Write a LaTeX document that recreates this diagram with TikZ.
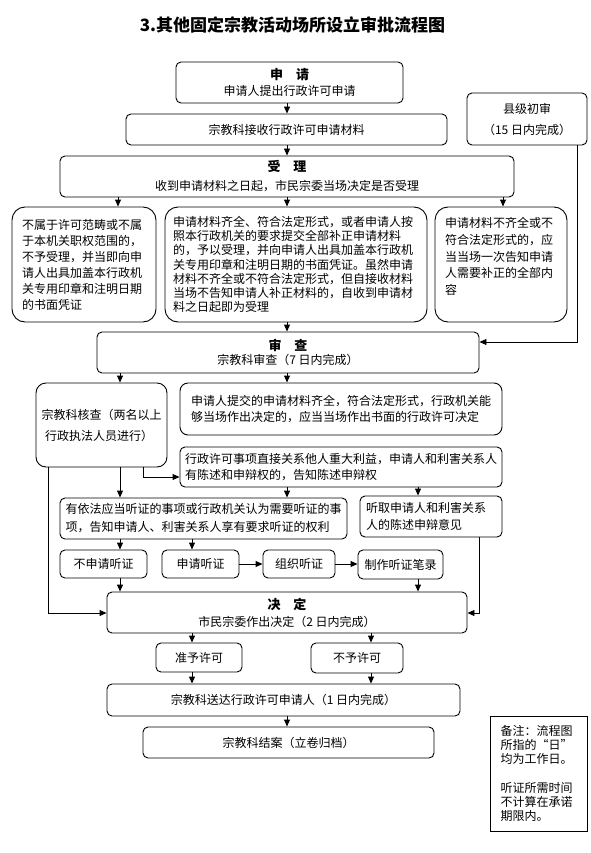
\documentclass[tikz,border=0pt]{standalone}
\usepackage{fontspec}
\setmainfont{Noto Sans CJK SC}
\usetikzlibrary{arrows.meta}
\newcommand\hdtext[1]{{\bfseries\fontsize{13}{16}\selectfont #1}}
\begin{document}
\begin{tikzpicture}[x=1pt,y=-1pt,
  box/.style={draw, line width=0.9pt, rounded corners=5pt, inner sep=0pt, align=center, font=\fontsize{12}{16}\selectfont},
  bigbox/.style={box, rounded corners=13pt, align=left},
  notebox/.style={draw, line width=0.9pt, inner sep=0pt, align=left, font=\fontsize{12}{14.2}\selectfont},
  arr/.style={line width=0.9pt, -{Triangle[length=7pt,width=6pt]}},
  ln/.style={line width=0.9pt}]
\useasboundingbox (0,0) rectangle (590,853);

\node[font=\fontsize{17}{20}\selectfont\bfseries] (title) at (292.5,24.5) {3.其他固定宗教活动场所设立审批流程图};

% top chain
\node[box, minimum width=227pt, minimum height=41pt] (b1) at (289.5,82.5) {\hdtext{申\hspace{1em}请}\\申请人提出行政许可申请};
\node[box, minimum width=321pt, minimum height=31pt] (b2) at (286.5,129.5) {宗教科接收行政许可申请材料};
\node[box, minimum width=454pt, minimum height=41pt, font=\fontsize{12}{19}\selectfont] (b3) at (287,176.5) {\hdtext{受\hspace{1em}理}\\收到申请材料之日起，市民宗委当场决定是否受理};
\node[box, minimum width=120pt, minimum height=52pt, font=\fontsize{12}{21}\selectfont] (bx) at (527,119) {县级初审\\（15 日内完成）};

% three outcomes
\node[bigbox, minimum width=144pt, minimum height=115pt, text width=124pt] (bA) at (84,264.5) {不属于许可范畴或不属\\于本机关职权范围的，\\不予受理，并当即向申\\请人出具加盖本行政机\\关专用印章和注明日期\\的书面凭证};
\node[bigbox, minimum width=262pt, minimum height=115pt, text width=246pt, font=\fontsize{12}{14.3}\selectfont] (bB) at (296,264.5) {申请材料齐全、符合法定形式，或者申请人按\\照本行政机关的要求提交全部补正申请材料\\的，予以受理，并向申请人出具加盖本行政机\\关专用印章和注明日期的书面凭证。虽然申请\\材料不齐全或不符合法定形式，但自接收材料\\当场不告知申请人补正材料的，自收到申请材\\料之日起即为受理};
\node[bigbox, minimum width=132pt, minimum height=115pt, text width=112pt, font=\fontsize{12}{16.7}\selectfont] (bC) at (501,264.5) {申请材料不齐全或不\\符合法定形式的，应\\当当场一次告知申请\\人需要补正的全部内\\容\\\mbox{}};

% review
\node[box, minimum width=382pt, minimum height=41pt, font=\fontsize{12}{14}\selectfont] (b4) at (288,352.5) {\hdtext{审\hspace{1em}查}\\宗教科审查（7 日内完成）};
\node[box, rounded corners=10pt, minimum width=131pt, minimum height=84pt, text width=120pt, align=left, font=\fontsize{12}{21}\selectfont] (bD) at (101.5,425) {宗教科核查（两名以上\\\hspace{0.3em}行政执法人员进行）};
\node[box, rounded corners=8pt, minimum width=322pt, minimum height=52pt, text width=300pt, align=left] (bE) at (341,409) {申请人提交的申请材料齐全，符合法定形式，行政机关能\\够当场作出决定的，应当当场作出书面的行政许可决定};
\node[box, minimum width=322pt, minimum height=40pt, text width=312pt, align=left] (bF) at (341,467) {行政许可事项直接关系他人重大利益，申请人和利害关系人\\有陈述和申辩权的，告知陈述申辩权};

% hearing
\node[box, minimum width=287pt, minimum height=41pt, text width=276pt, align=left, font=\fontsize{12}{18}\selectfont] (bG) at (203.5,518.5) {有依法应当听证的事项或行政机关认为需要听证的事\\项，告知申请人、利害关系人享有要求听证的权利};
\node[box, minimum width=142pt, minimum height=41pt, text width=130pt, align=left, font=\fontsize{12}{17}\selectfont] (bH) at (431,516.5) {听取申请人和利害关系\\人的陈述申辩意见};
\node[box, minimum width=87pt, minimum height=28pt] (bN1) at (103.5,564) {不申请听证};
\node[box, minimum width=77pt, minimum height=28pt] (bN2) at (200.5,564) {申请听证};
\node[box, minimum width=72pt, minimum height=28pt] (bN3) at (299,564) {组织听证};
\node[box, minimum width=85pt, minimum height=29pt] (bN4) at (400.5,564.5) {制作听证笔录};

% decision
\node[box, minimum width=360pt, minimum height=41pt, font=\fontsize{12}{17}\selectfont] (b5) at (287,612.5) {\hdtext{决\hspace{1em}定}\\市民宗委作出决定（2 日内完成）};
\node[box, minimum width=86pt, minimum height=29pt] (bY) at (199,657.5) {准予许可};
\node[box, minimum width=92pt, minimum height=30pt] (bNo) at (357,658) {不予许可};
\node[box, minimum width=353pt, minimum height=32pt] (b6) at (283.5,700) {宗教科送达行政许可申请人（1 日内完成）};
\node[box, minimum width=291pt, minimum height=31pt] (b7) at (288.5,742.5) {宗教科结案（立卷归档）};

% note
\node[notebox, minimum width=97pt, minimum height=115pt, text width=76pt] (note) at (538.5,773.5) {备注：流程图\\所指的“日”\\均为工作日。\\\mbox{}\\听证所需时间\\不计算在承诺\\期限内。};

% x positions of vertical connectors
\coordinate (xm) at (287,0);
\coordinate (xa) at (118,0);
\coordinate (xc) at (503,0);
\coordinate (xd) at (120,0);
\coordinate (xg) at (192,0);
\coordinate (xh) at (418,0);
\coordinate (xn) at (371,0);

\draw[arr] (xm |- b1.south) -- (xm |- b2.north);
\draw[arr] (xm |- b2.south) -- (xm |- b3.north);
\draw[arr] (xa |- b3.south) -- (xa |- bA.north);
\draw[arr] (xm |- b3.south) -- (xm |- bB.north);
\draw[arr] (xc |- b3.south) -- (xc |- bC.north);
\draw[arr] (xm |- bB.south) -- (xm |- b4.north);

\coordinate (cX) at (577,342);
\draw[arr] (cX |- bx.south) -- (cX) -- (cX -| b4.east);

\draw[arr] (xd |- b4.south) -- (xd |- bD.north);
\draw[arr] (xm |- b4.south) -- (xm |- bE.north);

\coordinate (cDF) at (143,477);
\draw[arr] (cDF |- bD.south) -- (cDF) -- (cDF -| bF.west);
\draw[arr] (xd |- bD.south) -- (xd |- bG.north);
\draw[arr] (xm |- bF.south) -- (xm |- bG.north);
\draw[arr] (xh |- bF.south) -- (xh |- bH.north);

\coordinate (cL) at (48,613);
\draw[arr] (cL |- bD.south) -- (cL) -- (cL -| b5.west);
\coordinate (cR) at (479,613);
\draw[arr] (cR |- bH.south) -- (cR) -- (cR -| b5.east);

\draw[arr] (xd |- bG.south) -- (xd |- bN1.north);
\draw[arr] (xg |- bG.south) -- (xg |- bN2.north);
\draw[arr] (bN2.east) -- (bN3.west);
\draw[arr] (bN3.east) -- (bN4.west |- bN3.east);
\draw[arr] (xd |- bN1.south) -- (xd |- b5.north);
\draw[arr] (xh |- bN4.south) -- (xh |- b5.north);

\draw[arr] (xg |- b5.south) -- (xg |- bY.north);
\draw[arr] (xn |- b5.south) -- (xn |- bNo.north);
\draw[arr] (xg |- bY.south) -- (xg |- b6.north);
\draw[arr] (xn |- bNo.south) -- (xn |- b6.north);
\draw[arr] (xm |- b6.south) -- (xm |- b7.north);
\end{tikzpicture}
\end{document}
